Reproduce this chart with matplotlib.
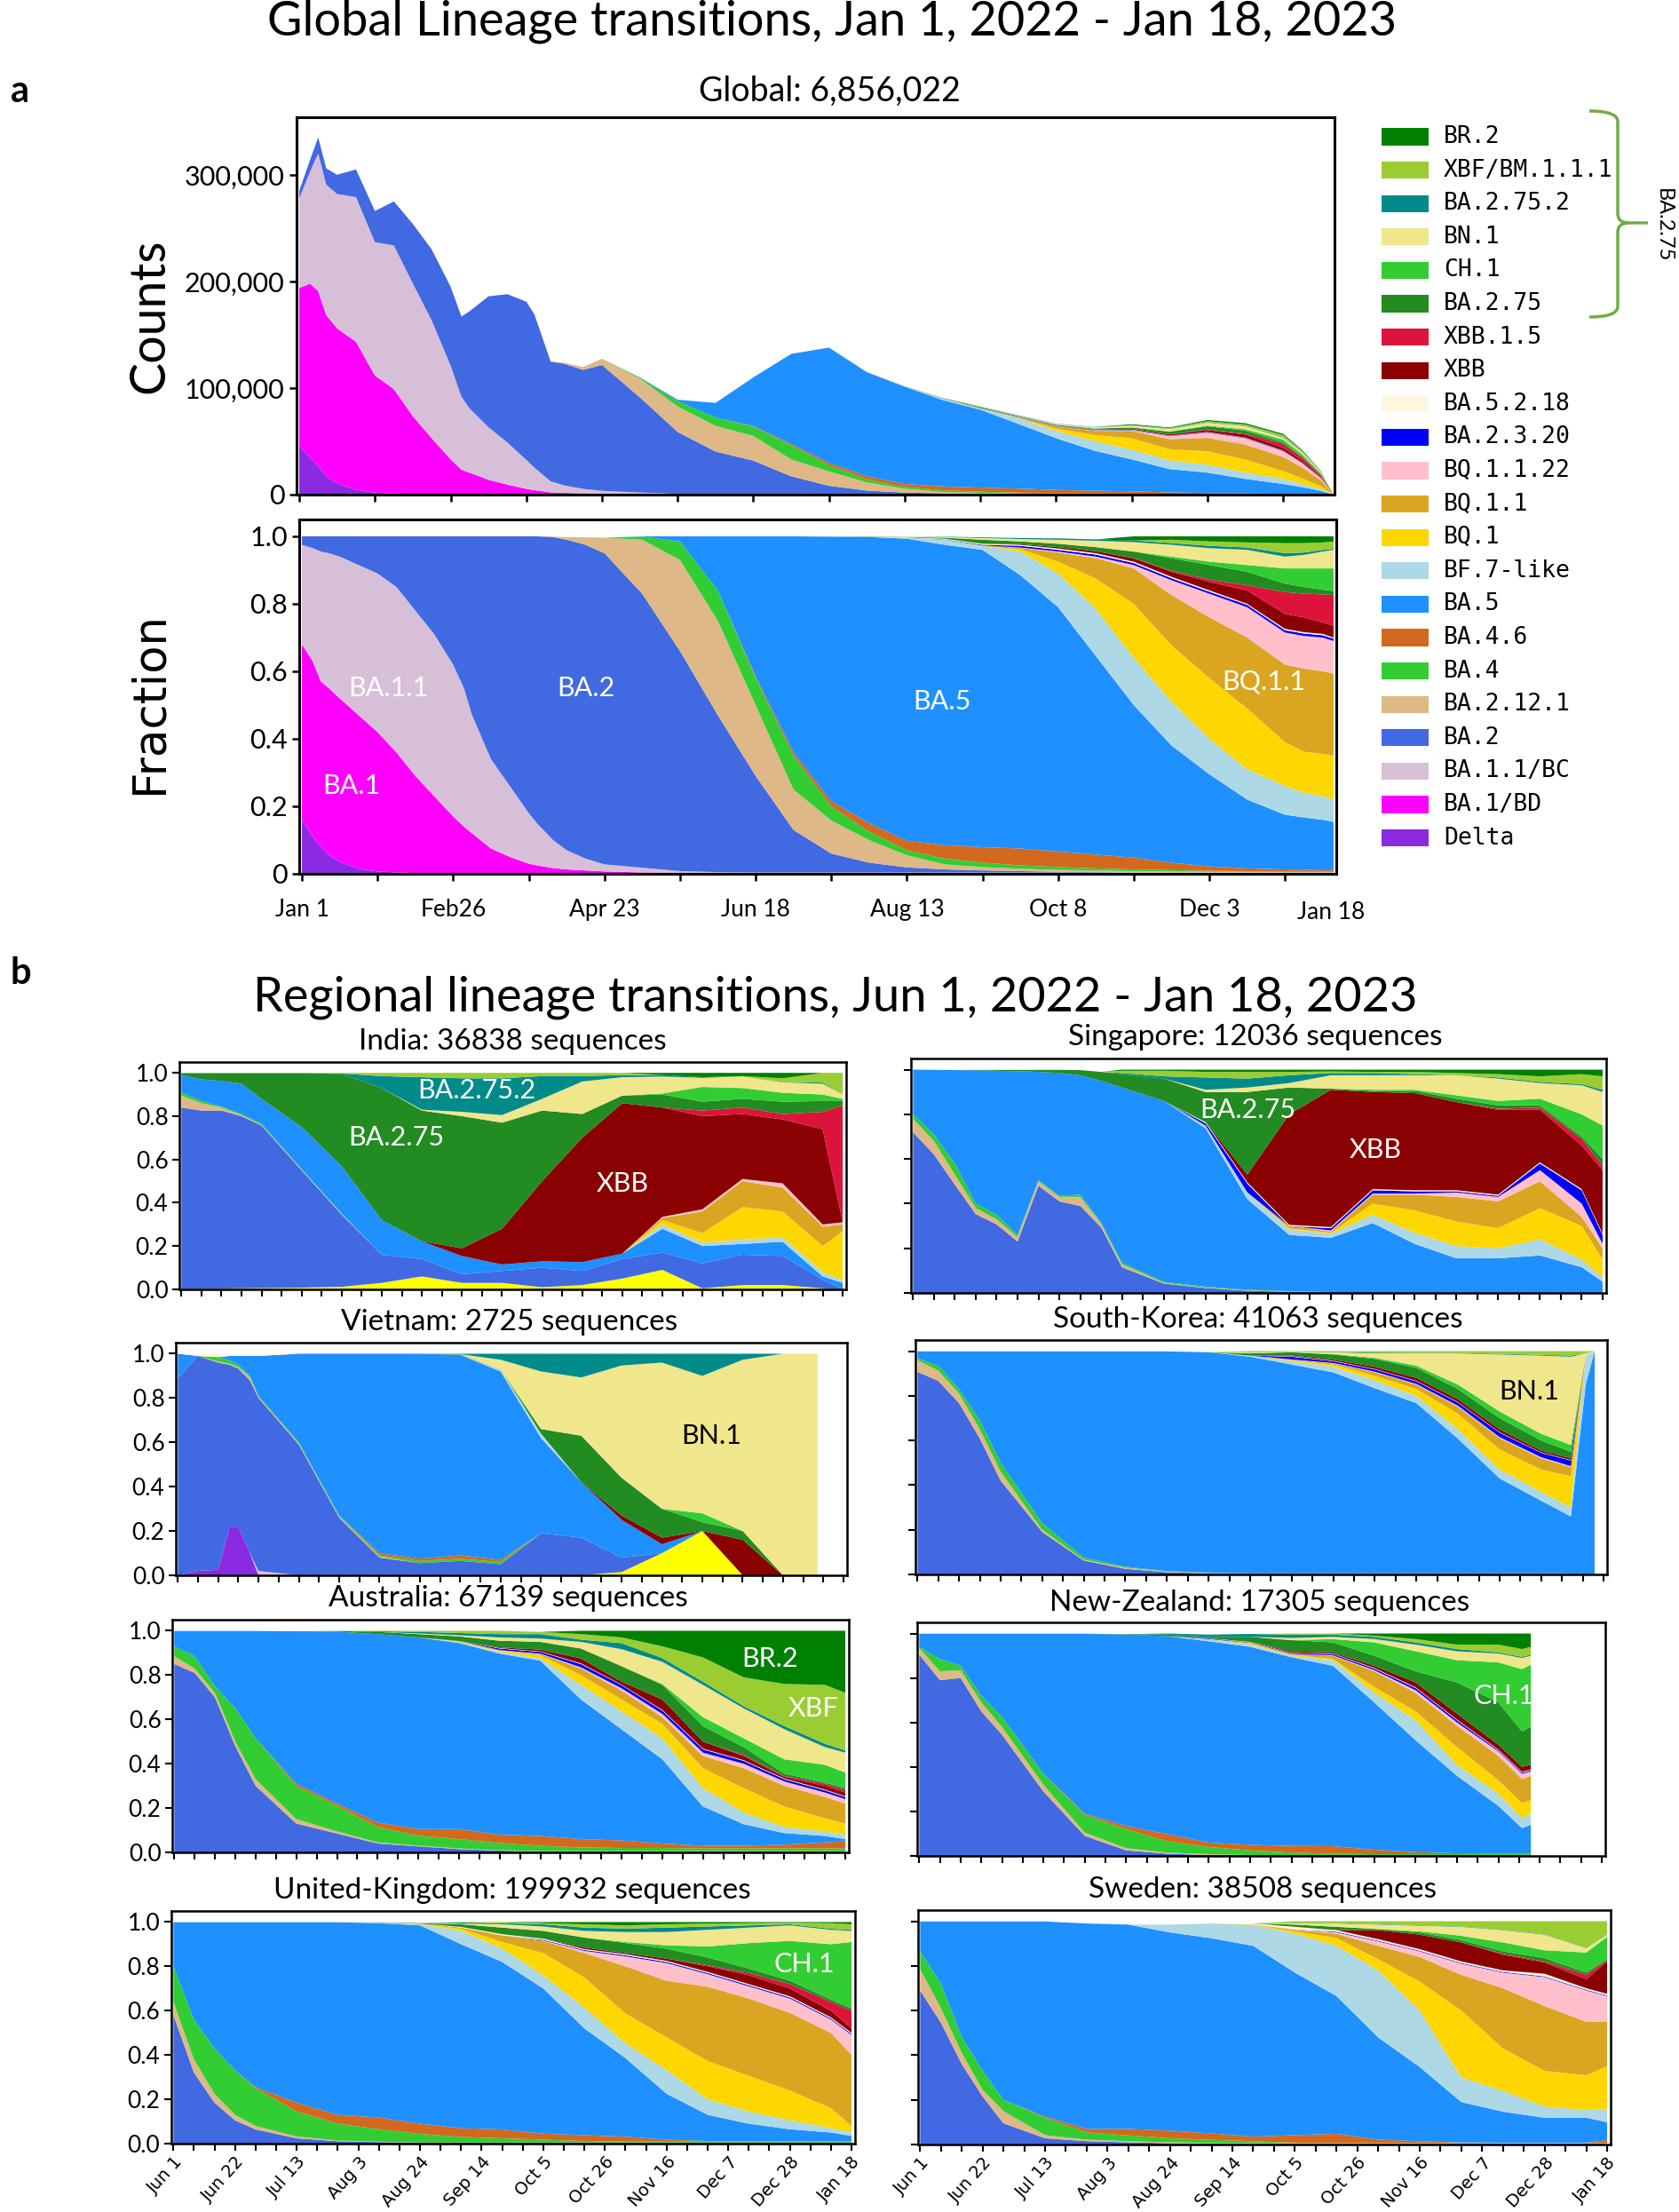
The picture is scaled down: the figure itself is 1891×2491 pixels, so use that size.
import numpy as np
import matplotlib
matplotlib.use('Agg')
import matplotlib.pyplot as plt
from matplotlib.patches import Rectangle, PathPatch
from matplotlib.path import Path

plt.rcParams['font.family'] = ['Lato', 'DejaVu Sans']

W, H = 1891, 2491

# stack order, bottom -> top ('Other' is not in the legend)
lineages = ['Other', 'Delta', 'BA.1/BD', 'BA.1.1/BC', 'BA.2', 'BA.2.12.1', 'BA.4', 'BA.4.6',
            'BA.5', 'BF.7-like', 'BQ.1', 'BQ.1.1', 'BQ.1.1.22', 'BA.2.3.20', 'BA.5.2.18',
            'XBB', 'XBB.1.5', 'BA.2.75', 'CH.1', 'BN.1', 'BA.2.75.2', 'XBF/BM.1.1.1', 'BR.2']
colors = {'Other': '#ffff00', 'Delta': '#8a2be2', 'BA.1/BD': '#ff00ff', 'BA.1.1/BC': '#d8bfd8',
          'BA.2': '#4169e1', 'BA.2.12.1': '#deb887', 'BA.4': '#32cd32', 'BA.4.6': '#d2691e',
          'BA.5': '#1e90ff', 'BF.7-like': '#add8e6', 'BQ.1': '#ffd700', 'BQ.1.1': '#daa520',
          'BQ.1.1.22': '#ffc0cb', 'BA.2.3.20': '#0000ff', 'BA.5.2.18': '#fff8dc', 'XBB': '#8b0000',
          'XBB.1.5': '#dc143c', 'BA.2.75': '#228b22', 'CH.1': '#32cd32', 'BN.1': '#f0e68c',
          'BA.2.75.2': '#008b8b', 'XBF/BM.1.1.1': '#9acd32', 'BR.2': '#008000'}

# ---------------- global data (upper edge of each band, None = lineage absent) -------------
global_days = [0, 4, 7, 10, 14, 21, 28, 35, 42, 49, 56, 60, 63, 70, 77, 84, 87, 93, 98, 105, 112,
               126, 140, 154, 168, 182, 196, 210, 224, 238, 252, 266, 280, 294, 308, 322, 336,
               350, 364, 371, 378, 382]
global_total = [285000, 314000, 335000, 306000, 300000, 305000, 266000, 275000, 254000, 230000,
                195000, 167000, 172000, 186000, 188000, 181000, 169000, 125000, 124000, 120000,
                128000, 110000, 89000, 86000, 110000, 132000, 138000, 115000, 102000, 91000,
                83000, 75000, 67000, 64000, 66000, 63000, 70000, 67000, 57000, 42000, 22000, 3000]
global_tops = {
    'Delta': [0.16, 0.11, 0.08, 0.055, 0.035, 0.015, 0.007, 0.004, 0.002, 0.001, 0.001] + [0.0] * 31,
    'BA.1/BD': [0.68, 0.63, 0.57, 0.55, 0.52, 0.47, 0.42, 0.36, 0.29, 0.23, 0.17, 0.14, 0.12, 0.075,
                0.05, 0.03, 0.025, 0.017, 0.013, 0.01, 0.007, 0.004, 0.003] + [0.002] * 19,
    'BA.1.1/BC': [0.975, 0.965, 0.955, 0.95, 0.94, 0.915, 0.89, 0.85, 0.78, 0.71, 0.62, 0.55, 0.47,
                  0.34, 0.26, 0.18, 0.15, 0.10, 0.07, 0.045, 0.028, 0.018, 0.008, 0.005] + [0.004] * 18,
    'BA.2': [1.0] * 17 + [0.998, 0.99, 0.975, 0.95, 0.83, 0.66, 0.47, 0.29, 0.13, 0.06, 0.033, 0.019,
                          0.013, 0.01, 0.008, 0.006, 0.005, 0.004] + [0.003] * 7,
    'BA.2.12.1': [None] * 17 + [0.999, 0.998, 0.997, 0.996, 0.99, 0.93, 0.75, 0.50, 0.25, 0.158, 0.10,
                                0.055, 0.028, 0.02, 0.015, 0.012, 0.01, 0.008, 0.007, 0.006, 0.006,
                                0.005, 0.005, 0.005, 0.005],
    'BA.4': [None] * 21 + [0.999, 0.985, 0.84, 0.58, 0.35, 0.2, 0.125, 0.07, 0.045, 0.033, 0.025, 0.02,
                           0.016, 0.013, 0.011, 0.009, 0.008, 0.007, 0.007, 0.007, 0.007],
    'BA.4.6': [None] * 24 + [0.585, 0.36, 0.215, 0.15, 0.098, 0.085, 0.079, 0.075, 0.066, 0.057, 0.048,
                             0.033, 0.022, 0.016, 0.013, 0.012, 0.011, 0.011],
    'BA.5': [None] * 21 + [1.0, 1.0, 1.0, 1.0, 1.0, 0.999, 0.998, 0.993, 0.975, 0.96, 0.885, 0.79, 0.645,
                           0.50, 0.38, 0.295, 0.22, 0.175, 0.167, 0.16, 0.154],
    'BF.7-like': [None] * 28 + [0.996, 0.99, 0.971, 0.955, 0.89, 0.785, 0.64, 0.51, 0.40, 0.31, 0.26,
                                0.24, 0.23, 0.22],
    'BQ.1': [None] * 30 + [0.972, 0.962, 0.925, 0.875, 0.80, 0.677, 0.58, 0.49, 0.39, 0.362, 0.355, 0.35],
    'BQ.1.1': [None] * 30 + [0.973, 0.966, 0.952, 0.935, 0.905, 0.826, 0.76, 0.70, 0.62, 0.608, 0.60, 0.593],
    'BQ.1.1.22': [None] * 31 + [0.967, 0.955, 0.94, 0.915, 0.87, 0.83, 0.79, 0.715, 0.705, 0.70, 0.69],
    'BA.2.3.20': [None] * 29 + [0.991, 0.975, 0.972, 0.96, 0.946, 0.921, 0.876, 0.836, 0.797, 0.722,
                                0.712, 0.707, 0.697],
    'BA.5.2.18': [None] * 28 + [0.997, 0.993, 0.978, 0.975, 0.964, 0.95, 0.925, 0.88, 0.84, 0.80, 0.726,
                                0.716, 0.711, 0.70],
    'XBB': [None] * 31 + [0.977, 0.968, 0.956, 0.935, 0.895, 0.865, 0.84, 0.77, 0.76, 0.745, 0.735],
    'XBB.1.5': [None] * 34 + [0.936, 0.898, 0.872, 0.855, 0.835, 0.83, 0.828, 0.826],
    'BA.2.75': [None] * 26 + [0.999, 0.999, 0.998, 0.996, 0.99, 0.985, 0.978, 0.968, 0.955, 0.935, 0.915,
                              0.895, 0.86, 0.85, 0.842, 0.838],
    'CH.1': [None] * 35 + [0.94, 0.925, 0.915, 0.905, 0.905, 0.905, 0.905],
    'BN.1': [None] * 28 + [0.999, 0.998, 0.995, 0.992, 0.99, 0.987, 0.983, 0.975, 0.965, 0.96, 0.94,
                           0.945, 0.955, 0.96],
    'BA.2.75.2': [None] * 29 + [0.999, 0.997, 0.995, 0.994, 0.991, 0.988, 0.98, 0.972, 0.967, 0.95,
                                0.952, 0.96, 0.963],
    'XBF/BM.1.1.1': [None] * 35 + [0.99, 0.985, 0.982, 0.98, 0.98, 0.982, 0.985],
    'BR.2': [None] * 34 + [1.0] * 8,
}

# ---------------- regional data (days since Jun 1, 2022) ----------------
reg_days = [0, 7, 14, 21, 28, 42, 56, 70, 84, 98, 112, 126, 140, 154, 168, 182, 196, 210, 224, 231]

india_tops = {
    'Other': [0.002, 0.002, 0.004, 0.005, 0.006, 0.008, 0.012, 0.03, 0.06, 0.03, 0.03, 0.01, 0.02, 0.05,
              0.09, 0.005, 0.02, 0.02, 0.005, 0.0],
    'BA.2': [0.84, 0.826, 0.826, 0.80, 0.757, 0.55, 0.345, 0.16, 0.14, 0.07, 0.085, 0.1, 0.085, 0.14,
             0.17, 0.12, 0.16, 0.155, 0.045, 0.0],
    'BA.2.12.1': [0.895, 0.86, 0.84, 0.805, 0.76, 0.553, 0.348] + [None] * 13,
    'BA.4': [0.91, 0.87, 0.845, 0.81, 0.765, 0.556, 0.35] + [None] * 13,
    'BA.5': [0.99, 0.97, 0.963, 0.95, 0.88, 0.75, 0.57, 0.32, 0.222, 0.154, 0.115, 0.13, 0.126, 0.165,
             0.28, 0.2, 0.21, 0.22, 0.06, 0.03],
    'BF.7-like': [None] * 14 + [0.30, 0.215, 0.23, 0.24, 0.08, 0.04],
    'BQ.1': [None] * 14 + [0.32, 0.26, 0.38, 0.36, 0.2, 0.27],
    'BQ.1.1': [None] * 14 + [0.33, 0.36, 0.5, 0.47, 0.29, 0.3],
    'BQ.1.1.22': [None] * 14 + [0.335, 0.37, 0.51, 0.49, 0.3, 0.31],
    'XBB': [None] * 9 + [0.19, 0.28, 0.5, 0.7, 0.86, 0.84, 0.80, 0.81, 0.785, 0.74, 0.31],
    'XBB.1.5': [None] * 15 + [0.826, 0.84, 0.81, 0.82, 0.85],
    'BA.2.75': [0.999, 0.999, 0.999, 0.999, 0.999, 0.999, 0.995, 0.93, 0.826, 0.80, 0.77, 0.826, 0.81,
                0.895, 0.90, 0.867, 0.88, 0.867, 0.87, 0.87],
    'CH.1': [None] * 14 + [0.905, 0.935, 0.93, 0.908, 0.9, 0.88],
    'BN.1': [None] * 8 + [0.83, 0.82, 0.805, 0.88, 0.96, 0.98, 0.983, 0.977, 0.983, 0.956, 0.95, 0.9],
    'BA.2.75.2': [None] * 6 + [0.997, 0.985, 0.98, 0.975, 0.975, 0.985, 0.985, 0.99, 0.99, 0.98, 0.983,
                               0.958, 0.955, 0.9],
    'XBF/BM.1.1.1': [1.0] * 14 + [0.99, 0.98, 0.985, 0.975, 1.0, 1.0],
    'BR.2': [None] * 14 + [1.0] * 6,
}

singapore_days = [0, 7, 14, 21, 28, 35, 42, 49, 56, 63, 70, 84, 98, 112, 126, 140, 154, 168, 182,
                  196, 210, 224, 231]
singapore_tops = {
    'BA.2': [0.72, 0.62, 0.485, 0.353, 0.307, 0.23, 0.48, 0.41, 0.39, 0.294, 0.115, 0.042, 0.022, 0.01,
             0.005, 0.004, 0.004, 0.003, 0.003, 0.003, 0.003, 0.003, 0.0],
    'BA.2.12.1': [0.78, 0.68, 0.53, 0.38, 0.33, 0.25, 0.50, 0.43, 0.43, 0.31, 0.128, 0.045, 0.024,
                  0.012, 0.006] + [None] * 8,
    'BA.4': [0.80, 0.71, 0.58, 0.40, 0.35, 0.26, 0.505, 0.435, 0.44, 0.315, 0.135, 0.05, 0.028, 0.014,
             0.008] + [None] * 8,
    'BA.5': [1.0, 0.999, 0.998, 0.997, 0.995, 0.993, 0.99, 0.985, 0.975, 0.95, 0.92, 0.86, 0.737, 0.42,
             0.26, 0.247, 0.313, 0.22, 0.155, 0.155, 0.168, 0.115, 0.05],
    'BF.7-like': [None] * 12 + [0.75, 0.45, 0.285, 0.265, 0.35, 0.27, 0.21, 0.2, 0.24, 0.15, 0.07],
    'BQ.1': [None] * 14 + [0.29, 0.27, 0.40, 0.37, 0.32, 0.29, 0.38, 0.30, 0.15],
    'BQ.1.1': [None] * 14 + [0.3, 0.275, 0.44, 0.44, 0.43, 0.41, 0.5, 0.34, 0.2],
    'BQ.1.1.22': [None] * 15 + [0.28, 0.445, 0.445, 0.45, 0.43, 0.55, 0.4, 0.22],
    'BA.2.3.20': [None] * 12 + [0.76, 0.49, 0.30, 0.29, 0.46, 0.455, 0.455, 0.435, 0.58, 0.46, 0.26],
    'BA.5.2.18': [None] * 12 + [0.765, 0.495, 0.305, 0.295, 0.465, 0.46, 0.46, 0.44, 0.585, 0.465, 0.265],
    'XBB': [None] * 13 + [0.53, 0.80, 0.91, 0.90, 0.895, 0.855, 0.82, 0.82, 0.66, 0.55],
    'XBB.1.5': [None] * 19 + [0.825, 0.83, 0.69, 0.57],
    'BA.2.75': [None] * 3 + [0.999, 0.999, 0.999, 0.999, 0.999, 0.998, 0.99, 0.98, 0.96, 0.90, 0.90,
                             0.92, 0.915, 0.905, 0.905, 0.87, 0.84, 0.84, 0.70, 0.60],
    'CH.1': [None] * 16 + [0.91, 0.91, 0.885, 0.86, 0.87, 0.80, 0.75],
    'BN.1': [None] * 12 + [0.91, 0.92, 0.94, 0.975, 0.975, 0.975, 0.975, 0.96, 0.94, 0.93, 0.90],
    'BA.2.75.2': [None] * 10 + [0.985, 0.97, 0.965, 0.96, 0.975, 0.985, 0.985, 0.98, 0.975, 0.965,
                                0.945, 0.935, 0.91],
    'XBF/BM.1.1.1': [None] * 10 + [0.995, 0.995, 0.99, 0.99, 0.99, 0.992, 0.99, 0.99, 0.985, 0.98,
                                   0.97, 0.98, 0.97],
    'BR.2': [None] * 10 + [1.0] * 13,
}

vietnam_days = [0, 7, 14, 18, 21, 25, 28, 42, 56, 70, 84, 98, 112, 126, 140, 154, 168, 182, 196, 210, 222]
vietnam_tops = {
    'Other': [0.0] * 15 + [0.015, 0.1, 0.2, 0.0, 0.0, 0.0],
    'Delta': [0.0, 0.02, 0.025, 0.22, 0.22, 0.1, 0.0] + [None] * 14,
    'BA.1.1/BC': [None] * 6 + [0.02] + [None] * 14,
    'BA.2': [0.89, 0.99, 0.96, 0.95, 0.933, 0.88, 0.80, 0.59, 0.26, 0.08, 0.055, 0.065, 0.05, 0.19,
             0.17, 0.08, 0.02, None, None, None, None],
    'BA.2.12.1': [None] * 2 + [0.965, 0.955, 0.94, 0.895, 0.805, 0.595, 0.265, 0.085] + [None] * 11,
    'BA.4': [None] * 2 + [0.985, 0.97, 0.95, 0.90, 0.81, 0.60, 0.27, 0.09, 0.065, 0.075, 0.06] + [None] * 8,
    'BA.4.6': [None] * 9 + [0.10, 0.075, 0.09, 0.07] + [None] * 8,
    'BA.5': [1.0, 0.975, 0.985, 0.99, 0.99, 0.99, 0.99, 1.0, 1.0, 1.0, 1.0, 0.995, 0.92, 0.62, 0.42,
             0.25, 0.14, None, None, None, None],
    'BF.7-like': [None] * 12 + [0.93, 0.64] + [None] * 7,
    'BA.5.2.18': [None, 1.0, 1.0, 1.0, 1.0, 1.0, 1.0] + [None] * 14,
    'XBB': [None] * 15 + [0.27, 0.17, 0.2, 0.16, None, None],
    'BA.2.75': [None] * 11 + [0.997, 0.925, 0.66, 0.63, 0.44, 0.30, 0.24, 0.20, None, None],
    'CH.1': [None] * 17 + [0.28, None, None, None],
    'BN.1': [None] * 11 + [0.998, 0.973, 0.92, 0.893, 0.947, 0.96, 0.9, 0.973, 1.0, 1.0],
    'BA.2.75.2': [None] * 11 + [1.0] * 8 + [None] * 2,
}

skorea_days = [0, 7, 14, 21, 28, 42, 56, 70, 84, 98, 112, 126, 140, 154, 168, 182, 196, 210, 220, 225, 228]
skorea_tops = {
    'BA.2': [0.907, 0.867, 0.767, 0.608, 0.42, 0.19, 0.062, 0.025, 0.01] + [0.005] * 10 + [None, None],
    'BA.2.12.1': [0.96, 0.913, 0.81, 0.65, 0.46, 0.2, 0.066, 0.03, 0.013, 0.007] + [None] * 11,
    'BA.4': [0.968, 0.935, 0.83, 0.69, 0.5, 0.23, 0.075, 0.035, 0.015, 0.008] + [None] * 11,
    'BA.5': [0.999] * 9 + [0.995, 0.975, 0.94, 0.905, 0.834, 0.767, 0.608, 0.43, 0.33, 0.26, 0.85, 1.0],
    'BF.7-like': [None] * 10 + [0.98, 0.955, 0.93, 0.87, 0.80, 0.65, 0.47, 0.37, 0.30, 0.98, None],
    'BQ.1': [None] * 11 + [0.96, 0.94, 0.89, 0.83, 0.72, 0.56, 0.47, 0.44, None, None],
    'BQ.1.1': [None] * 11 + [0.962, 0.945, 0.905, 0.85, 0.75, 0.61, 0.52, 0.48, None, None],
    'BQ.1.1.22': [None] * 11 + [0.963, 0.947, 0.908, 0.853, 0.755, 0.615, 0.525, 0.485, None, None],
    'BA.2.3.20': [None] * 11 + [0.975, 0.955, 0.918, 0.865, 0.77, 0.635, 0.545, 0.51, None, None],
    'BA.5.2.18': [None] * 11 + [0.977, 0.957, 0.92, 0.867, 0.772, 0.637, 0.547, 0.512, None, None],
    'XBB': [None] * 11 + [0.98, 0.962, 0.93, 0.88, 0.785, 0.65, 0.555, 0.52, None, None],
    'BA.2.75': [None] * 5 + [0.999, 0.998, 0.996, 0.995, 0.995, 0.99, 0.995, 0.985, 0.965, 0.925, 0.83,
                             0.70, 0.60, 0.55, None, None],
    'CH.1': [None] * 12 + [0.987, 0.97, 0.935, 0.85, 0.73, 0.63, 0.58, None, None],
    'BN.1': [None] * 10 + [0.995, 0.998, 0.995, 0.99, 0.99, 0.99, 0.985, 0.98, 0.975, 0.99, None],
    'BA.2.75.2': [None] * 10 + [0.997, 0.999, 0.997, 0.993, 0.992, 0.992, 0.988, 0.983, 0.98, None, None],
    'XBF/BM.1.1.1': [None] * 10 + [1.0] * 10 + [None],
}

australia_tops = {
    'BA.2': [0.85, 0.81, 0.70, 0.48, 0.30, 0.13, 0.085, 0.04, 0.027, 0.015, 0.008] + [0.004] * 9,
    'BA.2.12.1': [0.885, 0.83, 0.72, 0.50, 0.33, 0.15, 0.095, 0.045, 0.03, 0.018, 0.01] + [0.006] * 9,
    'BA.4': [0.93, 0.885, 0.75, 0.65, 0.515, 0.30, 0.21, 0.115, 0.075, 0.06, 0.042, 0.03, 0.022, 0.02,
             0.02, 0.018, 0.018, 0.018, 0.018, 0.018],
    'BA.4.6': [None] * 5 + [0.31, 0.22, 0.135, 0.105, 0.105, 0.08, 0.074, 0.06, 0.054, 0.04, 0.03, 0.03,
                            0.035, 0.045, 0.05],
    'BA.5': [0.999] * 5 + [0.998, 0.996, 0.985, 0.97, 0.945, 0.897, 0.865, 0.69, 0.555, 0.42, 0.207,
                           0.127, 0.087, 0.074, 0.06],
    'BF.7-like': [None] * 9 + [0.95, 0.905, 0.875, 0.756, 0.636, 0.515, 0.29, 0.18, 0.114, 0.094, 0.08],
    'BQ.1': [None] * 9 + [0.952, 0.91, 0.89, 0.80, 0.69, 0.58, 0.38, 0.29, 0.207, 0.154, 0.13],
    'BQ.1.1': [None] * 9 + [0.954, 0.912, 0.895, 0.83, 0.73, 0.61, 0.435, 0.38, 0.30, 0.25, 0.22],
    'BQ.1.1.22': [None] * 10 + [0.913, 0.897, 0.835, 0.74, 0.625, 0.45, 0.40, 0.32, 0.27, 0.24],
    'BA.2.3.20': [None] * 10 + [0.92, 0.905, 0.85, 0.755, 0.64, 0.465, 0.413, 0.33, 0.28, 0.25],
    'BA.5.2.18': [None] * 10 + [0.922, 0.907, 0.853, 0.757, 0.643, 0.468, 0.416, 0.333, 0.283, 0.253],
    'XBB': [None] * 10 + [0.925, 0.915, 0.875, 0.77, 0.69, 0.50, 0.435, 0.34, 0.30, 0.27],
    'XBB.1.5': [None] * 16 + [0.44, 0.345, 0.31, 0.28],
    'BA.2.75': [None] * 6 + [0.999, 0.995, 0.985, 0.975, 0.955, 0.95, 0.92, 0.84, 0.756, 0.57, 0.475,
                             0.355, 0.315, 0.29],
    'CH.1': [None] * 14 + [0.76, 0.61, 0.515, 0.42, 0.395, 0.36],
    'BN.1': [None] * 8 + [0.988, 0.98, 0.97, 0.965, 0.95, 0.917, 0.86, 0.756, 0.65, 0.556, 0.475, 0.45],
    'BA.2.75.2': [None] * 7 + [0.998, 0.995, 0.99, 0.985, 0.985, 0.96, 0.944, 0.877, 0.77, 0.66, 0.57,
                               0.49, 0.46],
    'XBF/BM.1.1.1': [None] * 7 + [1.0, 1.0, 1.0, 1.0, 0.995, 0.985, 0.97, 0.93, 0.88, 0.79, 0.76, 0.756, 0.72],
    'BR.2': [None] * 12 + [1.0] * 8,
}

nz_days = [0, 7, 14, 21, 28, 42, 56, 70, 84, 98, 112, 126, 140, 154, 168, 182, 196, 204, 207]
nz_tops = {
    'BA.2': [0.905, 0.79, 0.80, 0.65, 0.545, 0.29, 0.09, 0.025, 0.01] + [0.004] * 10,
    'BA.2.12.1': [0.935, 0.83, 0.835, 0.69, 0.58, 0.32, 0.105, 0.035, 0.015, 0.008] + [None] * 9,
    'BA.4': [0.94, 0.885, 0.855, 0.72, 0.625, 0.37, 0.185, 0.12, 0.065, 0.04, 0.025, 0.015, 0.01, 0.008,
             0.008, 0.008, 0.008, 0.008, 0.008],
    'BA.4.6': [None] * 6 + [0.19, 0.135, 0.098, 0.06, 0.05, 0.045, 0.044, 0.028, 0.017, 0.012, 0.01,
                            0.01, 0.01],
    'BA.5': [0.999] * 7 + [0.995, 0.988, 0.965, 0.94, 0.893, 0.855, 0.69, 0.52, 0.36, 0.225, 0.125, 0.14],
    'BF.7-like': [None] * 9 + [0.975, 0.95, 0.90, 0.88, 0.735, 0.61, 0.41, 0.28, 0.17, 0.19],
    'BQ.1': [None] * 10 + [0.955, 0.905, 0.886, 0.76, 0.65, 0.49, 0.34, 0.238, 0.25],
    'BQ.1.1': [None] * 10 + [0.957, 0.907, 0.9, 0.83, 0.733, 0.585, 0.45, 0.345, 0.36],
    'BQ.1.1.22': [None] * 10 + [0.958, 0.908, 0.902, 0.835, 0.745, 0.60, 0.47, 0.37, 0.38],
    'BA.2.3.20': [None] * 9 + [0.978, 0.96, 0.912, 0.908, 0.842, 0.755, 0.61, 0.475, 0.375, 0.385],
    'BA.5.2.18': [None] * 9 + [0.979, 0.962, 0.914, 0.91, 0.845, 0.758, 0.613, 0.478, 0.378, 0.388],
    'XBB': [None] * 11 + [0.92, 0.915, 0.855, 0.78, 0.64, 0.50, 0.40, 0.41],
    'BA.2.75': [None] * 7 + [0.997, 0.995, 0.985, 0.985, 0.97, 0.96, 0.9, 0.83, 0.78, 0.69, 0.56, 0.58],
    'CH.1': [None] * 12 + [0.975, 0.96, 0.92, 0.88, 0.87, 0.84, 0.86],
    'BN.1': [None] * 11 + [0.98, 0.985, 0.975, 0.95, 0.92, 0.91, 0.89, 0.9],
    'BA.2.75.2': [None] * 8 + [1.0, 0.995, 0.998, 0.995, 0.995, 0.985, 0.96, 0.93, 0.915, 0.895, 0.905],
    'XBF/BM.1.1.1': [None] * 11 + [1.0, 1.0, 0.99, 0.975, 0.95, 0.95, 0.93, 0.94],
    'BR.2': [None] * 13 + [1.0] * 6,
}

uk_tops = {
    'BA.2': [0.58, 0.32, 0.185, 0.105, 0.064, 0.024, 0.011, 0.007] + [0.004] * 12,
    'BA.2.12.1': [0.64, 0.38, 0.225, 0.13, 0.08, 0.032, 0.014, 0.009] + [0.005] * 12,
    'BA.4': [0.8, 0.56, 0.43, 0.33, 0.25, 0.145, 0.09, 0.065, 0.044, 0.03, 0.024, 0.018, 0.012] + [0.009] * 7,
    'BA.4.6': [None] * 4 + [0.255, 0.185, 0.13, 0.118, 0.09, 0.07, 0.064, 0.045, 0.038, 0.031, 0.018,
                            0.012, 0.01, 0.01, 0.01, 0.01],
    'BA.5': [0.999] * 7 + [0.995, 0.985, 0.90, 0.82, 0.70, 0.52, 0.386, 0.225, 0.13, 0.09, 0.065, 0.05, 0.035],
    'BF.7-like': [None] * 7 + [0.998, 0.99, 0.96, 0.88, 0.76, 0.614, 0.453, 0.332, 0.2, 0.145, 0.105,
                               0.07, 0.05],
    'BQ.1': [None] * 8 + [0.992, 0.97, 0.91, 0.86, 0.75, 0.587, 0.48, 0.373, 0.306, 0.24, 0.16, 0.08],
    'BQ.1.1': [None] * 8 + [0.993, 0.975, 0.94, 0.915, 0.86, 0.80, 0.735, 0.708, 0.655, 0.59, 0.5, 0.4],
    'BQ.1.1.22': [None] * 11 + [0.917, 0.87, 0.845, 0.815, 0.765, 0.71, 0.655, 0.56, 0.49],
    'BA.2.3.20': [None] * 11 + [0.92, 0.874, 0.85, 0.82, 0.77, 0.715, 0.66, 0.565, 0.495],
    'BA.5.2.18': [None] * 9 + [0.978, 0.945, 0.925, 0.878, 0.855, 0.825, 0.775, 0.72, 0.665, 0.57, 0.50],
    'XBB': [None] * 12 + [0.885, 0.86, 0.835, 0.80, 0.76, 0.70, 0.60, 0.52],
    'XBB.1.5': [None] * 15 + [0.805, 0.77, 0.72, 0.64, 0.60],
    'BA.2.75': [None] * 7 + [0.999, 0.995, 0.99, 0.975, 0.96, 0.93, 0.905, 0.88, 0.84, 0.79, 0.735, 0.65, 0.61],
    'CH.1': [None] * 13 + [0.91, 0.895, 0.89, 0.905, 0.915, 0.9, 0.91],
    'BN.1': [None] * 9 + [0.993, 0.99, 0.98, 0.96, 0.955, 0.955, 0.965, 0.975, 0.985, 0.965, 0.96],
    'BA.2.75.2': [None] * 9 + [0.998, 0.995, 0.99, 0.975, 0.97, 0.975, 0.98, 0.985, 0.99, 0.97, 0.965],
    'XBF/BM.1.1.1': [None] * 9 + [1.0, 1.0, 0.995, 0.99, 0.985, 0.99, 0.993, 0.995, 0.997, 0.995, 0.99],
    'BR.2': [None] * 11 + [1.0] * 9,
}

sweden_tops = {
    'BA.2': [0.69, 0.545, 0.36, 0.215, 0.095, 0.028, 0.015, 0.01, 0.006] + [0.004] * 11,
    'BA.2.12.1': [0.785, 0.61, 0.41, 0.245, 0.15, 0.042, 0.022, 0.015, 0.01] + [0.007] * 11,
    'BA.4': [0.865, 0.72, 0.48, 0.33, 0.2, 0.12, 0.054, 0.041, 0.028, 0.021, 0.015, 0.008] + [0.007] * 8,
    'BA.4.6': [None] * 5 + [0.125, 0.07, 0.07, 0.062, 0.05, 0.035, 0.042, 0.048, 0.022, 0.015, 0.009,
                            0.008, 0.008, 0.008, 0.02],
    'BA.5': [0.999] * 6 + [0.99, 0.985, 0.95, 0.924, 0.89, 0.77, 0.665, 0.48, 0.347, 0.19, 0.147, 0.12,
                           0.12, 0.1],
    'BF.7-like': [None] * 8 + [0.985, 0.99, 0.983, 0.945, 0.89, 0.78, 0.60, 0.30, 0.24, 0.17, 0.155, 0.16],
    'BQ.1': [None] * 10 + [0.985, 0.955, 0.925, 0.83, 0.73, 0.60, 0.43, 0.33, 0.31, 0.35],
    'BQ.1.1': [None] * 10 + [0.986, 0.962, 0.944, 0.89, 0.84, 0.76, 0.70, 0.62, 0.55, 0.55],
    'BQ.1.1.22': [None] * 11 + [0.964, 0.95, 0.91, 0.865, 0.81, 0.77, 0.75, 0.69, 0.665],
    'BA.2.3.20': [None] * 12 + [0.953, 0.913, 0.868, 0.813, 0.773, 0.753, 0.693, 0.668],
    'BA.5.2.18': [None] * 10 + [0.99, 0.975, 0.96, 0.92, 0.875, 0.82, 0.78, 0.765, 0.70, 0.675],
    'XBB': [None] * 13 + [0.96, 0.94, 0.905, 0.85, 0.815, 0.74, 0.82],
    'XBB.1.5': [None] * 16 + [0.855, 0.82, 0.76, 0.825],
    'BA.2.75': [None] * 11 + [0.985, 0.975, 0.965, 0.95, 0.915, 0.865, 0.835, 0.77, 0.83],
    'CH.1': [None] * 14 + [0.955, 0.935, 0.905, 0.87, 0.86, 0.93],
    'BN.1': [None] * 11 + [0.99, 0.99, 0.985, 0.98, 0.975, 0.96, 0.94, 0.88, 0.94],
    'BA.2.75.2': [None] * 11 + [0.992, 0.992, 0.987, 0.982, 0.977, 0.962, 0.942, 0.882, 0.942],
    'XBF/BM.1.1.1': [None] * 11 + [1.0] * 9,
}

legend_labels = lineages[:0:-1]  # BR.2 ... Delta
reg_tick_labels = ['Jun 1', 'Jun 22', 'Jul 13', 'Aug 3', 'Aug 24', 'Sep 14', 'Oct 5', 'Oct 26',
                   'Nov 16', 'Dec 7', 'Dec 28', 'Jan 18']
glob_tick_labels = ['Jan 1', 'Feb26', 'Apr 23', 'Jun 18', 'Aug 13', 'Oct 8', 'Dec 3']


def fx(x):
    return x / W


def fy(y):
    return 1 - y / H


def add_ax(l, t, r, b):
    return fig.add_axes([fx(l), fy(b), (r - l) / W, (b - t) / H])


def draw_stack(ax, days, tops, scale=None):
    d = np.asarray(days, float)
    mult = np.ones(len(d)) if scale is None else np.asarray(scale, float)
    prev = np.zeros(len(d))
    for name in lineages:
        if name not in tops:
            continue
        vals = np.array([np.nan if v is None else v for v in tops[name]], float)
        top = np.where(np.isnan(vals), prev, np.maximum(vals, prev))
        ax.fill_between(d, prev * mult, top * mult, facecolor=colors[name], linewidth=0)
        prev = top


def style_spines(ax, lw):
    for s in ax.spines.values():
        s.set_linewidth(lw)
        s.set_color('black')


fig = plt.figure(figsize=(W / 100, H / 100), dpi=100)

# ---------------- panel a ----------------
fig.text(fx(937), fy(24), 'Global Lineage transitions, Jan 1, 2022 - Jan 18, 2023',
         ha='center', va='center', fontsize=39)
fig.text(fx(12), fy(103), 'a', ha='left', va='center', fontsize=30, fontweight='bold')
fig.text(fx(934), fy(103), 'Global: 6,856,022', ha='center', va='center', fontsize=27)

ax_c = add_ax(334, 132, 1503, 557)
draw_stack(ax_c, global_days, global_tops, scale=global_total)
ax_c.set_xlim(-1, 383)
ax_c.set_ylim(0, 354000)
ax_c.set_xticks(range(0, 365, 28))
ax_c.set_xticklabels([])
ax_c.set_yticks([0, 100000, 200000, 300000])
ax_c.set_yticklabels(['0', '100,000', '200,000', '300,000'], fontsize=22)
ax_c.tick_params(length=6, width=1.8)
style_spines(ax_c, 2.2)
fig.text(fx(169), fy(356), 'Counts', rotation=90, ha='center', va='center', fontsize=40)

ax_f = add_ax(337, 585, 1505, 984)
draw_stack(ax_f, global_days, global_tops)
ax_f.set_xlim(-1, 383)
ax_f.set_ylim(0, 1.05)
ax_f.set_xticks(range(0, 365, 28))
ax_f.set_xticklabels([glob_tick_labels[i // 2] if i % 2 == 0 else '' for i in range(14)], fontsize=19)
ax_f.set_yticks([0, 0.2, 0.4, 0.6, 0.8, 1.0])
ax_f.set_yticklabels(['0', '0.2', '0.4', '0.6', '0.8', '1.0'], fontsize=22)
ax_f.tick_params(length=6, width=1.8)
ax_f.tick_params(axis='x', pad=14)
style_spines(ax_f, 2.2)
ax_f.text(381, -0.115, 'Jan 18', transform=ax_f.transData, ha='center', va='center', fontsize=19,
          clip_on=False)
fig.text(fx(168), fy(792), 'Fraction', rotation=90, ha='center', va='center', fontsize=37,
         family='DejaVu Sans')
for lab, x, y in [('BA.1.1', 32, 0.55), ('BA.2', 105, 0.55), ('BA.5', 237, 0.51),
                  ('BQ.1.1', 356, 0.57), ('BA.1', 18.5, 0.26)]:
    ax_f.text(x, y, lab, color='white', ha='center', va='center', fontsize=22)

# legend
for i, name in enumerate(legend_labels):
    yc = 154 + i * 37.6
    fig.add_artist(Rectangle((fx(1556), fy(yc + 9.5)), 53 / W, 19 / H, transform=fig.transFigure,
                             facecolor=colors[name], edgecolor='none'))
    fig.text(fx(1626), fy(yc), name, ha='left', va='center', fontsize=19, family='DejaVu Sans Mono')

# brace around the BA.2.75 family
def P(x, y):
    return (fx(x), fy(y))

brace = Path([P(1790, 125), P(1822, 125), P(1822, 137), P(1822, 240), P(1822, 251), P(1834, 251),
              P(1856, 251), P(1834, 251), P(1822, 251), P(1822, 262), P(1822, 345), P(1822, 357),
              P(1790, 357)],
             [Path.MOVETO, Path.CURVE3, Path.CURVE3, Path.LINETO, Path.CURVE3, Path.CURVE3,
              Path.LINETO, Path.MOVETO, Path.CURVE3, Path.CURVE3, Path.LINETO, Path.CURVE3, Path.CURVE3])
fig.add_artist(PathPatch(brace, transform=fig.transFigure, fill=False, edgecolor='#70ad47', linewidth=2.5))
fig.text(fx(1873), fy(254), 'BA.2.75', rotation=270, ha='center', va='center', fontsize=17)

# ---------------- panel b ----------------
fig.text(fx(12), fy(1096), 'b', ha='left', va='center', fontsize=30, fontweight='bold')
fig.text(fx(941), fy(1123), 'Regional lineage transitions, Jun 1, 2022 - Jan 18, 2023',
         ha='center', va='center', fontsize=39)

panels = [
    ((202, 1196, 953, 1452), reg_days, india_tops, 'India: 36838 sequences', (577, 1173), True, False,
     [('BA.2.75.2', 103, 0.92, 'white'), ('BA.2.75', 75, 0.70, 'white'), ('XBB', 154, 0.49, 'white')]),
    ((1026, 1192, 1809, 1456), singapore_days, singapore_tops, 'Singapore: 12036 sequences', (1414, 1168),
     False, False, [('BA.2.75', 112, 0.82, 'white'), ('XBB', 155, 0.64, 'white')]),
    ((198, 1512, 954, 1774), vietnam_days, vietnam_tops, 'Vietnam: 2725 sequences', (574, 1489), True, False,
     [('BN.1', 185, 0.63, 'black')]),
    ((1031, 1509, 1810, 1773), skorea_days, skorea_tops, 'South-Korea: 41063 sequences', (1417, 1486),
     False, False, [('BN.1', 206, 0.82, 'black')]),
    ((194, 1824, 956, 2086), reg_days, australia_tops, 'Australia: 67139 sequences', (572, 1800), True, False,
     [('BR.2', 205, 0.875, 'white'), ('XBF', 220, 0.65, 'white')]),
    ((1033, 1827, 1808, 2090), nz_days, nz_tops, 'New-Zealand: 17305 sequences', (1419, 1805), False, False,
     [('CH.1', 198, 0.72, 'white')]),
    ((193, 2152, 963, 2414), reg_days, uk_tops, 'United-Kingdom: 199932 sequences', (577, 2129), True, True,
     [('CH.1', 215, 0.81, 'white')]),
    ((1034, 2151, 1814, 2415), reg_days, sweden_tops, 'Sweden: 38508 sequences', (1422, 2128), False, True, []),
]

for rect, days, tops, title, tpos, ylab, xlab, notes in panels:
    ax = add_ax(*rect)
    draw_stack(ax, days, tops)
    ax.set_xlim(-0.7, 232.2)
    ax.set_ylim(0, 1.05)
    ax.set_xticks(range(0, 232, 7))
    ax.set_yticks([0, 0.2, 0.4, 0.6, 0.8, 1.0])
    if ylab:
        ax.set_yticklabels(['0.0', '0.2', '0.4', '0.6', '0.8', '1.0'], fontsize=19)
    else:
        ax.set_yticklabels([])
    ax.tick_params(length=6, width=1.5, pad=3)
    if xlab:
        ax.set_xticklabels([reg_tick_labels[i // 3] if i % 3 == 0 else '' for i in range(34)],
                           rotation=48, ha='right', rotation_mode='anchor', fontsize=14,
                           family='DejaVu Sans')
        ax.tick_params(axis='x', pad=2)
    else:
        ax.set_xticklabels([])
    style_spines(ax, 1.8)
    fig.text(fx(tpos[0]), fy(tpos[1]), title, ha='center', va='center', fontsize=24)
    for lab, x, y, c in notes:
        ax.text(x, y, lab, color=c, ha='center', va='center', fontsize=22)

fig.savefig('out.png', dpi=100)
